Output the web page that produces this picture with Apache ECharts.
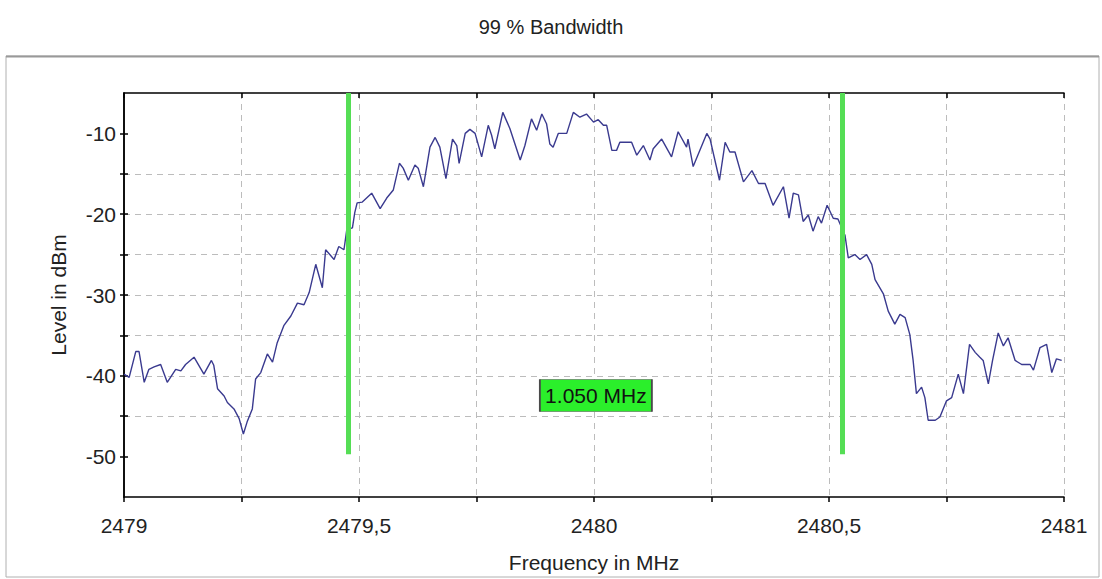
<!DOCTYPE html>
<html>
<head>
<meta charset="utf-8">
<script src="https://cdn.jsdelivr.net/npm/echarts@6/dist/echarts.min.js"></script>
<style>
html,body{margin:0;padding:0;background:#fff;}
#chart{width:1102px;height:579px;}
</style>
</head>
<body>
<div id="chart"></div>
<script>
// ---- data ----
const freqMHz = [
2479.000,2479.011,2479.025,2479.032,2479.043,2479.053,2479.064,2479.078,2479.092,2479.110,
2479.121,2479.131,2479.149,2479.170,2479.186,2479.191,2479.199,2479.213,2479.220,2479.234,
2479.245,2479.254,2479.262,2479.273,2479.280,2479.291,2479.305,2479.316,2479.326,2479.340,
2479.355,2479.369,2479.383,2479.394,2479.408,2479.422,2479.429,2479.447,2479.457,2479.468,
2479.474,2479.486,2479.491,2479.496,2479.507,2479.527,2479.545,2479.559,2479.573,2479.586,
2479.594,2479.605,2479.619,2479.626,2479.637,2479.651,2479.662,2479.672,2479.685,2479.699,
2479.708,2479.713,2479.726,2479.736,2479.747,2479.761,2479.775,2479.782,2479.789,2479.806,
2479.821,2479.843,2479.853,2479.867,2479.878,2479.889,2479.899,2479.906,2479.913,2479.924,
2479.942,2479.956,2479.970,2479.984,2479.999,2480.009,2480.020,2480.027,2480.038,2480.048,
2480.055,2480.080,2480.091,2480.105,2480.119,2480.126,2480.144,2480.165,2480.179,2480.197,
2480.200,2480.211,2480.240,2480.247,2480.267,2480.279,2480.289,2480.300,2480.318,2480.336,
2480.350,2480.364,2480.381,2480.403,2480.415,2480.424,2480.435,2480.445,2480.456,2480.466,
2480.477,2480.484,2480.496,2480.509,2480.519,2480.534,2480.541,2480.555,2480.566,2480.580,
2480.591,2480.598,2480.616,2480.626,2480.640,2480.651,2480.662,2480.672,2480.679,2480.686,
2480.697,2480.704,2480.711,2480.726,2480.736,2480.750,2480.761,2480.775,2480.786,2480.799,
2480.811,2480.821,2480.828,2480.839,2480.848,2480.860,2480.871,2480.881,2480.896,2480.910,
2480.928,2480.935,2480.949,2480.963,2480.974,2480.984,2480.995
];
const levelDBm = [
-39.8,-40.2,-37.0,-37.0,-40.8,-39.2,-38.9,-38.6,-40.8,-39.2,
-39.4,-38.6,-37.7,-39.8,-38.1,-38.7,-41.6,-42.5,-43.3,-44.1,
-45.3,-47.2,-45.7,-44.1,-40.4,-39.6,-37.3,-38.3,-35.9,-33.8,
-32.6,-31.0,-31.2,-29.7,-26.2,-29.1,-24.4,-25.6,-24.0,-24.4,
-21.9,-21.7,-19.8,-18.6,-18.5,-17.4,-19.3,-18.0,-17.0,-13.7,
-14.3,-15.8,-13.9,-14.3,-16.6,-11.7,-10.5,-11.7,-15.6,-10.7,
-11.5,-13.7,-10.0,-9.5,-10.0,-12.9,-9.0,-10.2,-11.9,-7.4,
-9.4,-13.3,-11.5,-8.2,-9.6,-7.6,-8.8,-11.3,-11.7,-10.0,
-10.0,-7.4,-8.0,-7.6,-8.6,-8.3,-9.0,-9.0,-12.1,-12.1,
-11.1,-11.1,-12.7,-11.5,-13.3,-11.9,-10.7,-12.9,-9.8,-11.7,
-10.7,-14.1,-10.0,-10.7,-15.8,-11.1,-12.3,-12.3,-16.0,-14.6,
-16.2,-16.2,-18.9,-16.6,-20.5,-17.4,-17.6,-20.9,-20.1,-22.1,
-20.3,-21.1,-18.9,-20.5,-20.6,-22.6,-25.4,-25.0,-25.6,-25.0,
-26.2,-28.1,-29.9,-32.0,-33.6,-32.4,-32.8,-34.9,-38.1,-42.2,
-41.4,-42.7,-45.5,-45.5,-45.1,-43.1,-42.7,-39.8,-42.2,-36.1,
-37.1,-37.7,-38.1,-41.0,-38.1,-34.7,-36.3,-35.3,-38.1,-38.6,
-38.6,-39.3,-36.5,-36.1,-39.6,-37.9,-38.1
];
const bandEdgesMHz = [2479.478, 2480.528];
const bandLineTop = -5;
const bandLineBottom = -49.7;
const bandwidthText = '1.050 MHz';
const bandLabelPos = [2480.004, -42.45];
const xTickLabels = ['2479', '2479,5', '2480', '2480,5', '2481'];
const yTickLabels = ['-50', '-40', '-30', '-20', '-10'];
const titleText = '99 % Bandwidth';

// ---- chart ----
const FONT = '"Liberation Sans", Arial, sans-serif';
const chart = echarts.init(document.getElementById('chart'), null, {renderer: 'svg'});
const seriesData = freqMHz.map((f, i) => [f, levelDBm[i]]);

function xLabel(v) {
  const s = String(Math.round(v * 100) / 100).replace('.', ',');
  return xTickLabels.indexOf(s) >= 0 ? s : '';
}
function yLabel(v) {
  const s = String(Math.round(v));
  return yTickLabels.indexOf(s) >= 0 ? s : '';
}
const yTickVals = [-50, -45, -40, -35, -30, -25, -20, -15, -10];
const gridLine = {show: true, showMinLine: false, lineStyle: {color: '#bcbcbc', type: [6, 5], width: 1}};

const baseX = {
  type: 'value', min: 2479, max: 2481, interval: 0.25,
  axisLine: {show: true, onZero: false, lineStyle: {color: '#000', width: 1.5}},
  axisTick: {show: true, length: 5, lineStyle: {color: '#000', width: 1.5}},
  splitLine: Object.assign({}, gridLine, {showMaxLine: true})
};
const baseY = {
  type: 'value', min: -55, max: -5, interval: 5,
  axisLine: {show: true, onZero: false, lineStyle: {color: '#000', width: 1.5}},
  axisTick: {show: true, length: 4, customValues: yTickVals, lineStyle: {color: '#000', width: 1.5}},
  splitLine: Object.assign({}, gridLine, {showMaxLine: false})
};

const option = {
  animation: false,
  backgroundColor: '#fff',
  title: {
    text: titleText, left: 'center', top: 12,
    textStyle: {fontFamily: FONT, fontSize: 20, fontWeight: 'normal', color: '#222'}
  },
  graphic: [
    {type: 'rect', silent: true, shape: {x: 6, y: 56, width: 1093, height: 521},
     style: {fill: 'none', stroke: '#b0b0b0', lineWidth: 1}},
    {type: 'line', silent: true, shape: {x1: 6, y1: 56.5, x2: 1099, y2: 56.5},
     style: {stroke: '#999', lineWidth: 2}}
  ],
  grid: {left: 124, right: 38, top: 93, bottom: 82, containLabel: false},
  xAxis: [
    Object.assign({}, baseX, {
      name: 'Frequency in MHz', nameLocation: 'middle', nameGap: 55,
      nameTextStyle: {fontFamily: FONT, fontSize: 21, color: '#222'},
      axisLabel: {fontFamily: FONT, fontSize: 21, color: '#222', margin: 18, formatter: xLabel,
                  showMinLabel: true, showMaxLabel: true}
    }),
    Object.assign({}, baseX, {
      axisTick: {show: true, inside: true, length: 5, lineStyle: {color: '#000', width: 1.5}},
      axisLabel: {show: false}, splitLine: {show: false}
    })
  ],
  yAxis: [
    Object.assign({}, baseY, {
      name: 'Level in dBm', nameLocation: 'middle', nameGap: 55, nameRotate: 90,
      nameTextStyle: {fontFamily: FONT, fontSize: 21, color: '#222'},
      axisLabel: {fontFamily: FONT, fontSize: 21, color: '#222', margin: 8, formatter: yLabel}
    }),
    Object.assign({}, baseY, {
      position: 'left',
      axisTick: {show: true, inside: true, length: 4, customValues: yTickVals, lineStyle: {color: '#000', width: 1.5}},
      axisLabel: {show: false}, splitLine: {show: false}, name: ''
    })
  ],
  series: [
    {
      type: 'line', xAxisIndex: 0, yAxisIndex: 0,
      data: seriesData, showSymbol: false, symbol: 'none', smooth: false,
      lineStyle: {color: '#3a3a8f', width: 1.4},
      z: 3,
      markLine: {
        silent: true, symbol: 'none', animation: false,
        label: {show: false},
        lineStyle: {color: '#55de55', width: 5, type: 'solid'},
        data: bandEdgesMHz.map(f => [{coord: [f, bandLineTop]}, {coord: [f, bandLineBottom]}])
      },
      markPoint: {
        silent: true, animation: false,
        symbol: 'rect', symbolSize: [112, 32],
        itemStyle: {color: '#2bef2b', borderColor: '#4a4a4a', borderWidth: 1},
        label: {show: true, position: 'inside', formatter: bandwidthText,
                fontFamily: FONT, fontSize: 21, color: '#111'},
        data: [{coord: bandLabelPos}]
      }
    }
  ]
};
chart.setOption(option);
</script>
</body>
</html>
